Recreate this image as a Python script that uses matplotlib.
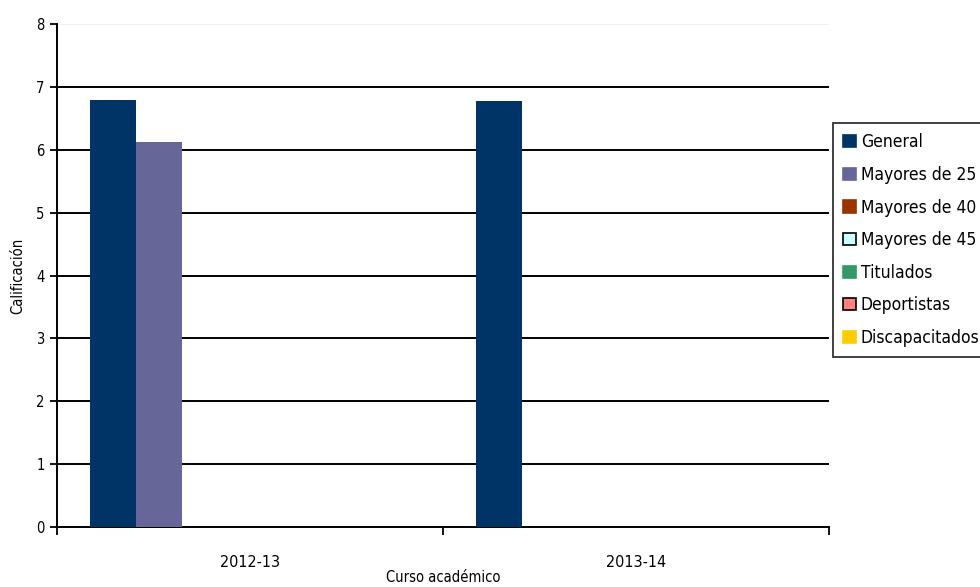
import numpy as np
import matplotlib.pyplot as plt
from matplotlib.patches import Patch

plt.rcParams['font.family'] = ['DejaVu Sans']
plt.rcParams['font.stretch'] = 'condensed'

cursos = ['2012-13', '2013-14']
series = ['General', 'Mayores de 25', 'Mayores de 40', 'Mayores de 45',
          'Titulados', 'Deportistas', 'Discapacitados']
valores = {
    'General': [6.79, 6.77],
    'Mayores de 25': [6.12, np.nan],
    'Mayores de 40': [np.nan, np.nan],
    'Mayores de 45': [np.nan, np.nan],
    'Titulados': [np.nan, np.nan],
    'Deportistas': [np.nan, np.nan],
    'Discapacitados': [np.nan, np.nan],
}
colores = ['#003366', '#666699', '#993300', '#CCFFFF', '#339966', '#FF8080', '#FFCC00']
bordes = [None, None, None, 'black', None, 'black', None]

fig = plt.figure(figsize=(9.8, 5.87), dpi=100)
ax = fig.add_axes([57/980, 1-527/587, (829-57)/980, (527-24)/587])

x = np.arange(len(cursos))
w = 46/386
start = -0.5 + 33/386
for j, s in enumerate(series):
    ax.bar(x + start + w*(j+0.5), valores[s], width=w, color=colores[j], zorder=3)

ax.set_xlim(-0.5, 1.5)
ax.set_ylim(0, 8)
ax.set_yticks(range(9))
ax.set_xticks([-0.5, 0.5, 1.5])
ax.set_xticklabels([])
ax.set_xticks(x, minor=True)
ax.set_xticklabels(cursos, minor=True, fontsize=11.5)
ax.tick_params(axis='x', which='minor', length=0, pad=20)
ax.tick_params(axis='x', which='major', length=6, width=1.3, direction='out')
ax.tick_params(axis='y', length=5, width=1.3, labelsize=10.5, pad=4)

for v in range(1, 8):
    ax.axhline(v, color='black', lw=1.4, zorder=1)
ax.axhline(8, color='#eeeeee', lw=1.2, zorder=1)

for sp in ['top', 'right']:
    ax.spines[sp].set_visible(False)
ax.spines['left'].set_linewidth(1.4)
ax.spines['bottom'].set_linewidth(1.4)

ax.set_ylabel('Calificación', fontsize=10.5, labelpad=8)
ax.set_xlabel('Curso académico', fontsize=10.5, labelpad=0)

handles = [Patch(facecolor=c, edgecolor=(b if b else c), linewidth=1.2)
           for c, b in zip(colores, bordes)]
leg = fig.legend(handles, series, loc='upper left', bbox_to_anchor=(833/980, 1-123/587),
                 fontsize=12.5, frameon=True, fancybox=False, edgecolor='black',
                 handlelength=0.7, handleheight=0.7, handletextpad=0.3,
                 labelspacing=0.84, borderpad=0.6, borderaxespad=0)
leg.get_frame().set_linewidth(1.3)

fig.savefig('out.png', dpi=100)
